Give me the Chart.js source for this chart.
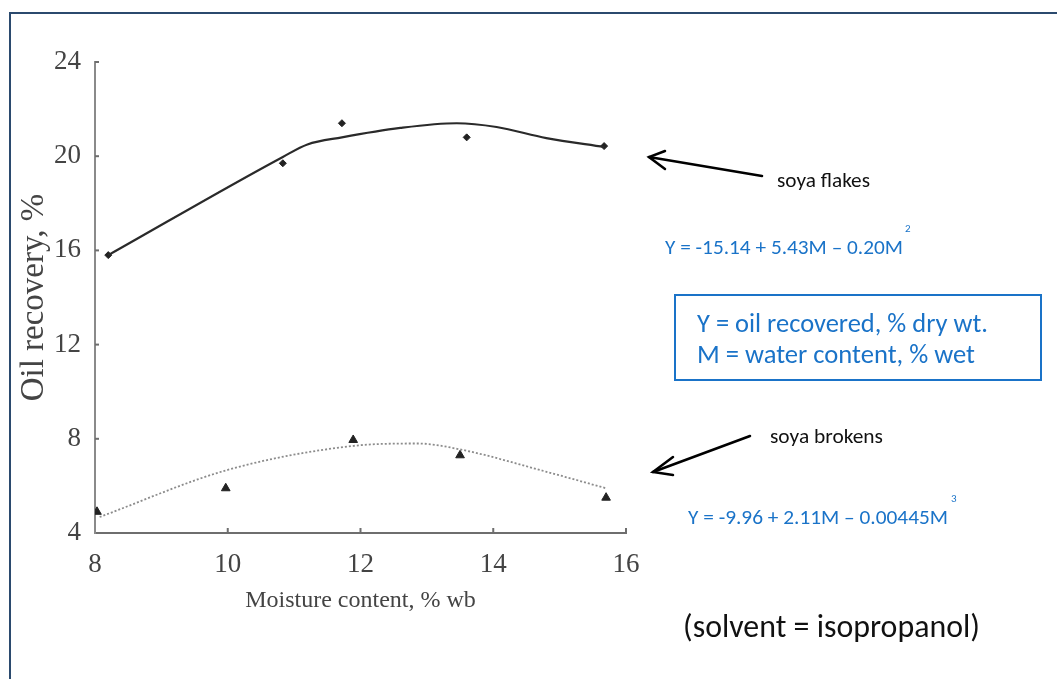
<!DOCTYPE html>
<html>
<head>
<meta charset="utf-8">
<script src="https://cdn.jsdelivr.net/npm/chart.js@4.4.1/dist/chart.umd.min.js"></script>
<style>
    html, body { margin: 0; padding: 0; background: #fff; }
    #wrap { position: relative; width: 1057px; height: 679px; overflow: hidden; }
    #frame {
        position: absolute; left: 9px; top: 12px; right: -5px; bottom: -5px;
        border-top: 2px solid #2b4a6e; border-left: 2px solid #2b4a6e;
    }
    #chart { position: absolute; left: 0; top: 0; }
    #notes { position: absolute; left: 0; top: 0; }
    .note { font-family: Carlito, Calibri, Lato, "Open Sans", sans-serif; }
</style>
</head>
<body>
<div id="wrap">
    <div id="frame"></div>
    <canvas id="chart" width="1057" height="679"></canvas>
    <svg id="notes" width="1057" height="679">
        <g stroke="#000" stroke-width="2.5" stroke-linecap="round" fill="none">
            <line x1="762" y1="176" x2="649" y2="157"/>
            <polyline points="665,151 649,157 665,169"/>
            <line x1="750" y1="436" x2="653" y2="472"/>
            <polyline points="673,457 653,472 673,475"/>
        </g>
        <rect x="675" y="295" width="366" height="85" fill="none" stroke="#1a73c8" stroke-width="2"/>
        <text class="note" x="777" y="187" font-size="21" fill="#111" textLength="93" lengthAdjust="spacingAndGlyphs">soya flakes</text>
        <text class="note" x="665" y="254" font-size="21" fill="#1a73c8" textLength="238" lengthAdjust="spacingAndGlyphs">Y = -15.14 + 5.43M – 0.20M</text>
        <text class="note" x="905" y="232" font-size="11" fill="#1a73c8">2</text>
        <text class="note" x="697" y="332" font-size="26" fill="#1a73c8" textLength="291" lengthAdjust="spacingAndGlyphs">Y = oil recovered, % dry wt.</text>
        <text class="note" x="697" y="363" font-size="26" fill="#1a73c8" textLength="278" lengthAdjust="spacingAndGlyphs">M = water content, % wet</text>
        <text class="note" x="770" y="443" font-size="21" fill="#111" textLength="113" lengthAdjust="spacingAndGlyphs">soya brokens</text>
        <text class="note" x="688" y="524" font-size="21" fill="#1a73c8" textLength="260" lengthAdjust="spacingAndGlyphs">Y = -9.96 + 2.11M – 0.00445M</text>
        <text class="note" x="951" y="502" font-size="11" fill="#1a73c8">3</text>
        <text class="note" x="683" y="637" font-size="32" fill="#111" textLength="297" lengthAdjust="spacingAndGlyphs">(solvent = isopropanol)</text>
    </svg>
</div>
<script>
// soya flakes - measured points
const flakesX = [8.2, 10.83, 11.72, 13.6, 15.67];
const flakesY = [15.8, 19.7, 21.4, 20.8, 20.43];

// soya flakes - fitted curve as drawn
const flakesFitX = [8.2, 10.83, 11.2, 11.72, 12.6, 13.45, 14.05, 14.8, 15.67];
const flakesFitY = [15.8, 19.97, 20.5, 20.8, 21.2, 21.4, 21.24, 20.77, 20.39];

// soya brokens - measured points
const brokensX = [8.03, 9.97, 11.89, 13.5, 15.7];
const brokensY = [4.9, 5.9, 7.95, 7.3, 5.5];

// soya brokens - fitted curve (dotted)
const brokensFitX = [8.07, 10.0, 11.9, 12.86, 13.5, 14.8, 15.7];
const brokensFitY = [4.68, 6.68, 7.7, 7.8, 7.55, 6.6, 5.9];

const xTicks = [8, 10, 12, 14, 16];
const yTicks = [4, 8, 12, 16, 20, 24];

function toPoints(xs, ys) {
    return xs.map((x, i) => ({ x: x, y: ys[i] }));
}

// small inward tick marks, like the original print
const innerTicks = {
    id: 'innerTicks',
    afterDraw(chart) {
        const ctx = chart.ctx;
        const xs = chart.scales.x;
        const ys = chart.scales.y;
        const area = chart.chartArea;
        ctx.save();
        ctx.strokeStyle = '#6e6e6e';
        ctx.lineWidth = 2;
        xTicks.slice(1).forEach(v => {
            const px = xs.getPixelForValue(v);
            ctx.beginPath();
            ctx.moveTo(px, area.bottom);
            ctx.lineTo(px, area.bottom - 5);
            ctx.stroke();
        });
        yTicks.slice(1).forEach(v => {
            const py = ys.getPixelForValue(v);
            ctx.beginPath();
            ctx.moveTo(area.left, py);
            ctx.lineTo(area.left + 4, py);
            ctx.stroke();
        });
        ctx.restore();
    }
};

const serif = 'Liberation Serif, "Times New Roman", serif';

new Chart(document.getElementById('chart').getContext('2d'), {
    type: 'scatter',
    data: {
        datasets: [
            {
                label: 'soya flakes fit',
                data: toPoints(flakesFitX, flakesFitY),
                showLine: true,
                borderColor: '#2a2a2a',
                borderWidth: 2.2,
                cubicInterpolationMode: 'monotone',
                pointRadius: 0
            },
            {
                label: 'soya flakes',
                data: toPoints(flakesX, flakesY),
                pointStyle: 'rectRot',
                pointRadius: 3.5,
                backgroundColor: '#222',
                borderColor: '#222'
            },
            {
                label: 'soya brokens fit',
                data: toPoints(brokensFitX, brokensFitY),
                showLine: true,
                borderColor: '#8c8c8c',
                borderWidth: 1.8,
                borderDash: [2, 2],
                cubicInterpolationMode: 'monotone',
                pointRadius: 0
            },
            {
                label: 'soya brokens',
                data: toPoints(brokensX, brokensY),
                pointStyle: 'triangle',
                pointRadius: 5,
                backgroundColor: '#222',
                borderColor: '#222'
            }
        ]
    },
    options: {
        responsive: false,
        animation: false,
        layout: {
            padding: { left: 10, right: 431, top: 62, bottom: 60 }
        },
        plugins: {
            legend: { display: false },
            tooltip: { enabled: false }
        },
        scales: {
            x: {
                type: 'linear',
                min: 8,
                max: 16,
                afterFit: function(scale) { scale.height = 86; },
                afterBuildTicks: function(scale) { scale.ticks = xTicks.map(v => ({ value: v })); },
                grid: { display: false, drawTicks: false },
                border: { display: true, color: '#6e6e6e', width: 2 },
                ticks: {
                    color: '#444',
                    padding: 16,
                    font: { family: serif, size: 27 }
                },
                title: {
                    display: true,
                    text: 'Moisture content, % wb',
                    color: '#444',
                    font: { family: serif, size: 24 },
                    padding: { top: 4, bottom: 4 }
                }
            },
            y: {
                type: 'linear',
                min: 4,
                max: 24,
                afterFit: function(scale) { scale.width = 85; },
                afterBuildTicks: function(scale) { scale.ticks = yTicks.map(v => ({ value: v })); },
                grid: { display: false, drawTicks: false },
                border: { display: true, color: '#8a8a8a', width: 2 },
                ticks: {
                    color: '#444',
                    padding: 14,
                    font: { family: serif, size: 27 }
                },
                title: {
                    display: true,
                    text: 'Oil recovery, %',
                    color: '#444',
                    font: { family: serif, size: 33 },
                    padding: { top: 5, bottom: 0 }
                }
            }
        }
    },
    plugins: [innerTicks]
});
</script>
</body>
</html>
